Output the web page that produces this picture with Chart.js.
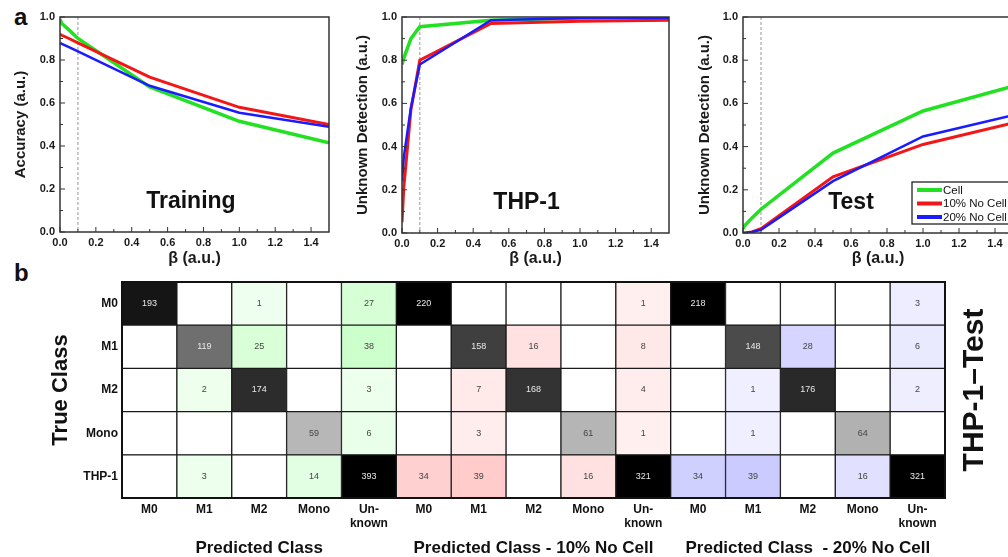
<!DOCTYPE html>
<html>
<head>
<meta charset="utf-8">
<script src="https://cdn.jsdelivr.net/npm/chart.js@4.4.1/dist/chart.umd.min.js"></script>
<style>
  html, body { margin: 0; padding: 0; background: #fff; overflow: hidden; width: 1008px; height: 557px; }
  .box { position: absolute; }
  .panel { position: absolute; font: bold 24px "Liberation Sans", Arial, sans-serif; color: #111; }
</style>
</head>
<body>
<div class="panel" style="left:14px;top:3px">a</div>
<div class="panel" style="left:14px;top:259px">b</div>
<div class="box" style="left:0;top:0;width:335px;height:270px"><canvas id="train"></canvas></div>
<div class="box" style="left:340px;top:0;width:335px;height:270px"><canvas id="thp"></canvas></div>
<div class="box" style="left:680px;top:0;width:340px;height:270px"><canvas id="test"></canvas></div>
<div class="box" style="left:0;top:260px;width:1008px;height:297px"><canvas id="heat"></canvas></div>
<script>
// beta sweep
const betaValues = [0, 0.01, 0.05, 0.1, 0.5, 1.0, 1.5];
const betaTicks = [0, 0.2, 0.4, 0.6, 0.8, 1.0, 1.2, 1.4];
const scoreTicks = [0, 0.2, 0.4, 0.6, 0.8, 1.0];
const betaMark = 0.1;

const seriesNames = ['Cell', '10% No Cell', '20% No Cell'];

const trainCell = [0.99, 0.97, 0.94, 0.90, 0.675, 0.515, 0.415];
const trainNoCell10 = [0.92, 0.915, 0.90, 0.88, 0.72, 0.58, 0.50];
const trainNoCell20 = [0.88, 0.875, 0.86, 0.84, 0.68, 0.555, 0.49];

const thpCell = [0.78, 0.81, 0.90, 0.955, 0.985, 0.995, 0.998];
const thpNoCell10 = [0.05, 0.21, 0.57, 0.80, 0.97, 0.98, 0.985];
const thpNoCell20 = [0.24, 0.35, 0.58, 0.78, 0.985, 0.995, 0.997];

const testCell = [0.02, 0.035, 0.07, 0.11, 0.37, 0.565, 0.68];
const testNoCell10 = [0, 0, 0.005, 0.02, 0.26, 0.41, 0.51];
const testNoCell20 = [0, 0, 0.005, 0.015, 0.24, 0.447, 0.545];

// confusion matrices (rows = true class, cols = predicted class)
const trueClasses = ['M0', 'M1', 'M2', 'Mono', 'THP-1'];
const predClasses = ['M0', 'M1', 'M2', 'Mono', ['Un-', 'known']];
const blockTitles = ['Predicted Class', 'Predicted Class - 10% No Cell', 'Predicted Class  - 20% No Cell'];

const cellCounts = [
  [193, 0, 1, 0, 27],
  [0, 119, 25, 0, 38],
  [0, 2, 174, 0, 3],
  [0, 0, 0, 59, 6],
  [0, 3, 0, 14, 393]
];
const noCell10Counts = [
  [220, 0, 0, 0, 1],
  [0, 158, 16, 0, 8],
  [0, 7, 168, 0, 4],
  [0, 3, 0, 61, 1],
  [34, 39, 0, 16, 321]
];
const noCell20Counts = [
  [218, 0, 0, 0, 3],
  [0, 148, 28, 0, 6],
  [0, 1, 176, 0, 2],
  [0, 1, 0, 64, 0],
  [34, 39, 0, 16, 321]
];

const FONT = '"Liberation Sans", Arial, sans-serif';
Chart.defaults.font.family = FONT;
Chart.defaults.color = '#1a1a1a';

const seriesColors = ['#22e022', '#f31616', '#1b1bff'];
const seriesWidths = [3.5, 3, 2.5];

// frame, inward ticks and the dashed beta marker
const framePlugin = {
  id: 'frame',
  beforeDatasetsDraw(chart) {
    const { ctx, chartArea: a, scales: { x } } = chart;
    const px = x.getPixelForValue(betaMark);
    ctx.save();
    ctx.strokeStyle = '#a8a8a8';
    ctx.lineWidth = 1.2;
    ctx.setLineDash([3, 2]);
    ctx.beginPath();
    ctx.moveTo(px, a.top);
    ctx.lineTo(px, a.bottom);
    ctx.stroke();
    ctx.restore();
  },
  afterDraw(chart) {
    const { ctx, chartArea: a, scales: { x, y } } = chart;
    ctx.save();
    ctx.strokeStyle = '#333';
    ctx.lineWidth = 1.5;
    ctx.strokeRect(a.left, a.top, a.right - a.left, a.bottom - a.top);
    ctx.lineWidth = 1;
    ctx.beginPath();
    betaTicks.forEach(v => {
      const p = x.getPixelForValue(v);
      ctx.moveTo(p, a.bottom); ctx.lineTo(p, a.bottom - 5);
      const m = x.getPixelForValue(v + 0.1);
      if (m < a.right) { ctx.moveTo(m, a.bottom); ctx.lineTo(m, a.bottom - 3); }
    });
    scoreTicks.forEach(v => {
      const p = y.getPixelForValue(v);
      ctx.moveTo(a.left, p); ctx.lineTo(a.left + 5, p);
      const m = y.getPixelForValue(v + 0.1);
      if (m > a.top) { ctx.moveTo(a.left, m); ctx.lineTo(a.left + 3, m); }
    });
    ctx.stroke();
    ctx.restore();
  }
};

const tagPlugin = {
  id: 'panelTag',
  afterDatasetsDraw(chart, args, opts) {
    if (!opts.text) return;
    const { ctx, scales: { x, y } } = chart;
    ctx.save();
    ctx.font = 'bold 23px ' + FONT;
    ctx.fillStyle = '#111';
    ctx.textAlign = 'center';
    ctx.textBaseline = 'middle';
    ctx.fillText(opts.text, x.getPixelForValue(opts.x), y.getPixelForValue(opts.y));
    ctx.restore();
  }
};

const boxLegend = {
  id: 'boxLegend',
  afterDraw(chart, args, opts) {
    if (!opts.show) return;
    const { ctx, chartArea: a } = chart;
    const left = a.right - 101, top = a.top + 165;
    ctx.save();
    ctx.fillStyle = '#fff';
    ctx.fillRect(left, top, 110, 42);
    ctx.strokeStyle = '#222';
    ctx.lineWidth = 1.3;
    ctx.strokeRect(left, top, 110, 42);
    ctx.font = '11.5px ' + FONT;
    ctx.textBaseline = 'middle';
    chart.data.datasets.forEach((ds, i) => {
      const yy = top + 8 + i * 13.5;
      ctx.strokeStyle = ds.borderColor;
      ctx.lineWidth = 4;
      ctx.beginPath();
      ctx.moveTo(left + 5, yy); ctx.lineTo(left + 30, yy);
      ctx.stroke();
      ctx.fillStyle = '#111';
      ctx.fillText(ds.label, left + 31, yy + 0.5);
    });
    ctx.restore();
  }
};

function lineChart(id, series, cfg) {
  return new Chart(document.getElementById(id), {
    type: 'line',
    data: {
      datasets: series.map((s, i) => ({
        label: seriesNames[i],
        data: betaValues.map((b, k) => ({ x: b, y: s[k] })),
        borderColor: seriesColors[i],
        borderWidth: seriesWidths[i],
        pointRadius: 0,
        tension: 0,
        fill: false,
        order: 3 - i
      }))
    },
    options: {
      animation: false,
      responsive: true,
      maintainAspectRatio: false,
      layout: { padding: { left: cfg.padLeft, top: 17, right: cfg.padRight, bottom: 0 } },
      plugins: {
        legend: { display: false },
        tooltip: { enabled: false },
        panelTag: cfg.tag,
        boxLegend: { show: !!cfg.legend }
      },
      scales: {
        x: {
          type: 'linear', min: 0, max: 1.5,
          afterBuildTicks: s => { s.ticks = betaTicks.map(v => ({ value: v })); },
          afterFit: s => { s.height = cfg.xHeight; },
          grid: { display: false, drawTicks: false },
          border: { display: false },
          ticks: { padding: 4, autoSkip: false, maxRotation: 0, font: { size: 11, weight: 'bold' }, callback: v => v.toFixed(1) },
          title: { display: true, text: 'β (a.u.)', font: { size: 16, weight: 'bold' }, padding: { top: 0, bottom: 2 } }
        },
        y: {
          type: 'linear', min: 0, max: 1,
          afterBuildTicks: s => { s.ticks = scoreTicks.map(v => ({ value: v })); },
          afterFit: s => { s.width = cfg.yWidth; },
          grid: { display: false, drawTicks: false },
          border: { display: false },
          ticks: { padding: 5, font: { size: 11, weight: 'bold' }, callback: v => v.toFixed(1) },
          title: { display: true, text: cfg.yTitle, font: { size: 15, weight: 'bold' }, padding: { top: 0, bottom: 0 } }
        }
      }
    },
    plugins: [framePlugin, tagPlugin, boxLegend]
  });
}

lineChart('train', [trainCell, trainNoCell10, trainNoCell20], {
  padLeft: 12, yWidth: 48, padRight: 6, xHeight: 38,
  yTitle: 'Accuracy (a.u.)', tag: { text: 'Training', x: 0.73, y: 0.14 }
});
lineChart('thp', [thpCell, thpNoCell10, thpNoCell20], {
  padLeft: 14, yWidth: 48, padRight: 6, xHeight: 37,
  yTitle: 'Unknown Detection (a.u.)', tag: { text: 'THP-1', x: 0.7, y: 0.14 }
});
lineChart('test', [testCell, testNoCell10, testNoCell20], {
  padLeft: 16, yWidth: 47, padRight: 7, xHeight: 37,
  yTitle: 'Unknown Detection (a.u.)', tag: { text: 'Test', x: 0.6, y: 0.14 }, legend: true
});

// ---- part b: three confusion matrices side by side ----
const blocks = [cellCounts, noCell10Counts, noCell20Counts];

function cellColor(block, row, col, v) {
  if (!v) return '#ffffff';
  if (row === col) {
    const g = Math.max(0, Math.round(255 * (1 - v / 210)));
    return `rgb(${g},${g},${g})`;
  }
  const l = 255 - Math.min(60, Math.round(15 + 0.95 * v));
  if (block === 0) return `rgb(${l},255,${l})`;
  if (block === 1) return `rgb(255,${l},${l})`;
  return `rgb(${l},${l},255)`;
}

const heatSets = trueClasses.map((name, r) => {
  const counts = blocks.flatMap(b => b[r]);
  return {
    label: name,
    data: counts.map(() => 1),
    counts,
    dark: blocks.flatMap(b => b[r].map((v, c) => c === r && v > 110)),
    backgroundColor: blocks.flatMap((b, bi) => b[r].map((v, c) => cellColor(bi, r, c, v))),
    borderColor: '#1a1a1a',
    borderWidth: 1,
    borderSkipped: false,
    barPercentage: 1,
    categoryPercentage: 1
  };
}).reverse();

const heatText = {
  id: 'heatText',
  afterDatasetsDraw(chart) {
    const { ctx, chartArea: a, scales: { x } } = chart;
    ctx.save();
    ctx.textAlign = 'center';
    ctx.textBaseline = 'middle';
    ctx.font = '9px ' + FONT;
    chart.data.datasets.forEach((ds, i) => {
      chart.getDatasetMeta(i).data.forEach((bar, j) => {
        const v = ds.counts[j];
        if (!v) return;
        ctx.fillStyle = ds.dark[j] ? '#e8e8e8' : '#444';
        ctx.fillText(String(v), bar.x, (bar.y + bar.base) / 2);
      });
    });
    ctx.strokeStyle = '#111';
    ctx.lineWidth = 2;
    ctx.strokeRect(a.left, a.top, a.right - a.left, a.bottom - a.top);
    ctx.fillStyle = '#111';
    ctx.font = 'bold 17px ' + FONT;
    blockTitles.forEach((t, b) => {
      ctx.fillText(t, x.getPixelForValue(b * 5 + 2), a.bottom + 50);
    });
    ctx.translate(a.right + 30, (a.top + a.bottom) / 2);
    ctx.rotate(-Math.PI / 2);
    ctx.font = 'bold 30px ' + FONT;
    ctx.fillText('THP-1–Test', 0, 0);
    ctx.restore();
  }
};

new Chart(document.getElementById('heat'), {
  type: 'bar',
  data: { labels: [].concat(predClasses, predClasses, predClasses), datasets: heatSets },
  options: {
    animation: false,
    responsive: true,
    maintainAspectRatio: false,
    layout: { padding: { left: 48, top: 22, right: 63, bottom: 0 } },
    plugins: { legend: { display: false }, tooltip: { enabled: false } },
    scales: {
      x: {
        stacked: true,
        afterFit: s => { s.height = 59; },
        grid: { display: false, drawTicks: false },
        border: { display: false },
        ticks: { padding: 4, autoSkip: false, maxRotation: 0, font: { size: 12, weight: 'bold' }, color: '#111' }
      },
      y: {
        stacked: true, min: 0, max: 5,
        afterBuildTicks: s => { s.ticks = trueClasses.map((c, i) => ({ value: 4.5 - i })); },
        afterFit: s => { s.width = 74; },
        grid: { display: false, drawTicks: false },
        border: { display: false },
        ticks: { padding: 4, font: { size: 12, weight: 'bold' }, color: '#111', callback: v => trueClasses[Math.round(4.5 - v)] },
        title: { display: true, text: 'True Class', font: { size: 22, weight: 'bold' }, color: '#111', padding: { top: 0, bottom: 0 } }
      }
    }
  },
  plugins: [heatText]
});
</script>
</body>
</html>
